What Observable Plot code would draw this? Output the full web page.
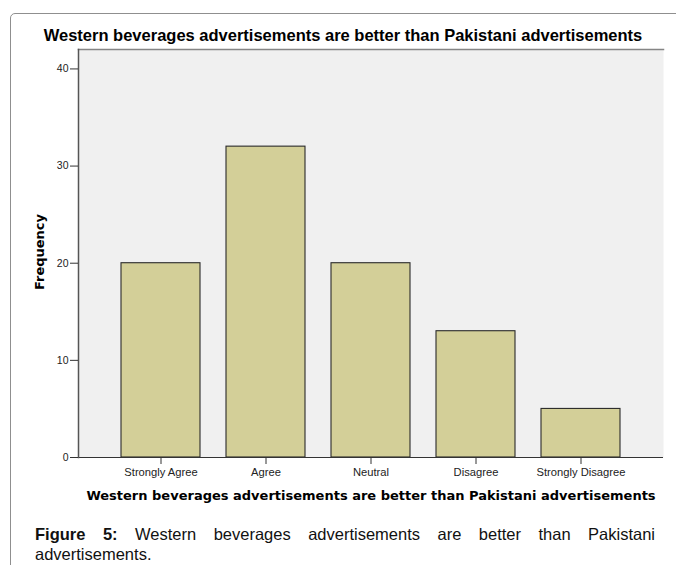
<!DOCTYPE html>
<html>
<head>
<meta charset="utf-8">
<script src="https://cdn.jsdelivr.net/npm/d3@7"></script>
<script src="https://cdn.jsdelivr.net/npm/@observablehq/plot@0.6"></script>
<style>
  html, body { margin: 0; padding: 0; background: #fff; overflow: hidden; }
  body { width: 676px; height: 565px; position: relative; overflow: hidden; }
  #frame { position: absolute; left: 10px; top: 13px; width: 1000px; height: 1000px;
           border: 1px solid #8f8f8f; border-radius: 5px; box-sizing: border-box; }
  #title { position: absolute; left: 0; top: 25px; width: 686px; text-align: center;
           font: bold 16.5px "Liberation Sans", Arial, sans-serif; line-height: 20px; color: #000; white-space: nowrap; }
  #chart { position: absolute; left: 0; top: 0; }
  .capline { position: absolute; left: 35px; width: 620px;
             font: 16.5px "Liberation Sans", Arial, sans-serif; line-height: 20px; color: #111; white-space: nowrap; }
  #cap1 { top: 524px; text-align: justify; text-align-last: justify; white-space: normal; }
  #cap2 { top: 544px; text-align: left; }
</style>
</head>
<body>
<div id="frame"></div>
<div id="chart"></div>
<div id="title"></div>
<div id="cap1" class="capline"></div>
<div id="cap2" class="capline"></div>
<script>
const categories = ["Strongly Agree", "Agree", "Neutral", "Disagree", "Strongly Disagree"];
const frequencies = [20, 32, 20, 13, 5];
const yTicks = [0, 10, 20, 30, 40];
const titleText = "Western beverages advertisements are better than Pakistani advertisements";
const xLabel = "Western beverages advertisements are better than Pakistani advertisements";
const yLabel = "Frequency";
const captionBold = "Figure 5:";
const captionLine1 = "Western beverages advertisements are better than Pakistani";
const captionLine2 = "advertisements.";

const data = categories.map((c, i) => ({category: c, frequency: frequencies[i]}));

const chart = Plot.plot({
  width: 676,
  height: 510,
  marginTop: 49,
  marginBottom: 53,
  marginLeft: 78,
  marginRight: 13,
  style: {background: "transparent", fontFamily: "'Liberation Sans', Arial, sans-serif", color: "#222"},
  x: {domain: categories, paddingInner: 0.243, paddingOuter: 0.39, align: 0.5},
  y: {domain: [0, 42]},
  marks: [
    Plot.frame({fill: "#f0f0f0", stroke: null}),
    Plot.frame({anchor: "top", stroke: "#858585", strokeWidth: 1.5}),
    Plot.barY(data, {x: "category", y: "frequency", fill: "#d3cf98", stroke: "#2a2a2a", strokeWidth: 1.1}),
    Plot.ruleY([0], {stroke: "#333", strokeWidth: 1.2}),
    Plot.frame({anchor: "left", stroke: "#555", strokeWidth: 1.5}),
    Plot.axisY({ticks: yTicks, tickSize: 8, tickPadding: 2, fontSize: 10.5, label: null, stroke: "#333"}),
    Plot.axisX({tickSize: 7, tickPadding: 4, fontSize: 11.2, label: null, stroke: "#333"}),
    Plot.text([xLabel], {text: d => d, frameAnchor: "bottom", lineAnchor: "middle", textAnchor: "middle", dy: 38.5,
      fontFamily: "'DejaVu Sans', Verdana, sans-serif", fontWeight: "bold", fontSize: 13, fill: "#000"}),
    Plot.text([yLabel], {text: d => d, frameAnchor: "left", lineAnchor: "middle", textAnchor: "middle", dx: -38.5, dy: -1.5, rotate: -90,
      fontFamily: "'DejaVu Sans', Verdana, sans-serif", fontWeight: "bold", fontSize: 13, fill: "#000"})
  ]
});
document.getElementById("chart").appendChild(chart);

document.getElementById("title").textContent = titleText;
const cap1 = document.getElementById("cap1");
const b = document.createElement("b");
b.textContent = captionBold;
cap1.appendChild(b);
cap1.appendChild(document.createTextNode(" "));
const s = document.createElement("span");
s.textContent = captionLine1;
cap1.appendChild(s);
document.getElementById("cap2").textContent = captionLine2;
</script>
</body>
</html>
